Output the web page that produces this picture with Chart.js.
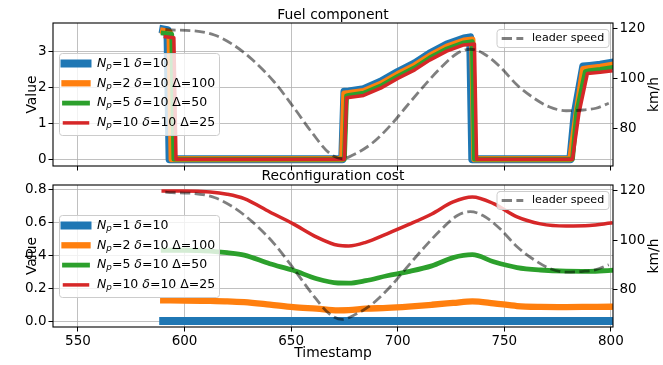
<!DOCTYPE html>
<html>
<head>
<meta charset="utf-8">
<script src="https://cdn.jsdelivr.net/npm/chart.js@4"></script>
<style>
  html, body { margin: 0; padding: 0; background: #fff; }
  #wrap { position: relative; width: 663px; height: 365px; overflow: hidden; }
  canvas { position: absolute; left: 0; }
  #fuel { top: 0; }
  #cost { top: 170px; }
</style>
</head>
<body>
<div id="wrap">
  <canvas id="fuel" width="663" height="180"></canvas>
  <canvas id="cost" width="663" height="195"></canvas>
</div>
<script>
// runs shown in the legend
const runNp = [1, 2, 5, 10];
const runDelta = [10, 10, 10, 10];
const runGap = [null, 100, 50, 25];

// axis ticks
const xTicks = [550, 600, 650, 700, 750, 800];
const fuelTicks = [0, 1, 2, 3];
const costTicks = [0, 0.2, 0.4, 0.6, 0.8];
const speedTicks = [80, 100, 120];

// fuel component, one timestamp list per run (steps happen at slightly different times)
const fuelTsNp1 = [590, 592, 593, 674, 675, 677, 684, 692, 700, 708, 715, 723, 731, 734, 735, 781, 783, 787, 790, 795, 800];
const fuelNp1 = [3.6, 3.58, 0, 0, 1.87, 1.88, 1.94, 2.15, 2.42, 2.66, 2.93, 3.18, 3.35, 3.38, 0, 0, 1.25, 2.57, 2.59, 2.62, 2.67];
const fuelTsNp2 = [590, 593, 594, 674, 675, 677, 684, 692, 700, 708, 715, 723, 731, 735, 736, 781, 784, 787, 790, 795, 800];
const fuelNp2 = [3.56, 3.53, 0, 0, 1.82, 1.83, 1.89, 2.09, 2.36, 2.6, 2.87, 3.12, 3.29, 3.32, 0, 0, 1.3, 2.5, 2.53, 2.56, 2.61];
const fuelTsNp5 = [590, 594, 595, 675, 676, 677, 684, 692, 700, 708, 715, 723, 731, 735, 736, 782, 784, 788, 790, 795, 800];
const fuelNp5 = [3.5, 3.47, 0, 0, 1.76, 1.77, 1.83, 2.03, 2.3, 2.54, 2.81, 3.06, 3.23, 3.26, 0, 0, 1.3, 2.43, 2.46, 2.49, 2.54];
const fuelTsNp10 = [591, 595, 596, 675, 676, 677, 684, 692, 700, 708, 715, 723, 731, 736, 737, 782, 785, 789, 795, 800];
const fuelNp10 = [3.4, 3.37, 0, 0, 1.7, 1.71, 1.77, 1.97, 2.24, 2.48, 2.75, 3.0, 3.17, 3.2, 0, 0, 1.27, 2.38, 2.41, 2.45];

// reconfiguration cost
const costTs = [590, 600, 612, 620, 628, 640, 651, 662, 672, 677, 685, 695, 705, 716, 726, 735, 745, 756, 767, 779, 790, 800];
const costNp1 = [0, 0, 0, 0, 0, 0, 0, 0, 0, 0, 0, 0, 0, 0, 0, 0, 0, 0, 0, 0, 0, 0];
const costNp2 = [0.126, 0.125, 0.122, 0.12, 0.115, 0.1, 0.085, 0.075, 0.065, 0.066, 0.075, 0.08, 0.088, 0.099, 0.11, 0.12, 0.108, 0.091, 0.086, 0.085, 0.086, 0.087];
const costNp5 = [0.43, 0.43, 0.425, 0.415, 0.4, 0.348, 0.308, 0.257, 0.231, 0.23, 0.245, 0.275, 0.3, 0.335, 0.385, 0.403, 0.36, 0.325, 0.31, 0.303, 0.302, 0.308];
const costNp10 = [0.79, 0.79, 0.784, 0.77, 0.743, 0.662, 0.59, 0.51, 0.46, 0.456, 0.478, 0.53, 0.585, 0.65, 0.723, 0.753, 0.713, 0.632, 0.59, 0.577, 0.58, 0.595];

// leader speed (km/h)
const speedTs = [591, 594, 604, 614, 623, 632, 642, 651, 660, 668, 674, 679, 688, 697, 704, 712, 720, 728, 734, 740, 748, 756, 764, 771, 779, 787, 793, 799];
const speedKmh = [119.5, 119.3, 119.0, 117.3, 113.3, 107.3, 98.6, 88.6, 78, 70, 67.8, 69.3, 74, 81.5, 88.6, 96.6, 104, 110, 111.6, 110, 104.6, 97.3, 92, 88.6, 87, 87.3, 88, 90];

const lineColors = ["#1f77b4", "#ff7f0e", "#2ca02c", "#d62728"];
const lineWidths = [8, 6.3, 4.8, 3.5];
const gridColor = "#b0b0b0";
const speedColor = "rgba(0,0,0,0.5)";
const speedDash = [10.3, 4.4];

Chart.defaults.font.family = "'DejaVu Sans', sans-serif";
Chart.defaults.color = "#000";

function pts(xs, ys) {
  return xs.map((x, i) => ({ x: x, y: ys[i] }));
}

function fixedTicks(values) {
  return function (scale) {
    scale.ticks = values.map(v => ({ value: v }));
  };
}

function drawMathLabel(ctx, parts, x, y, size) {
  parts.forEach(([t, s]) => {
    const fs = s === "s" ? size * 0.7 : size;
    ctx.font = (s === "n" ? "" : "italic ") + fs + "px 'DejaVu Sans'";
    ctx.fillText(t, x, y + (s === "s" ? size * 0.25 : 0));
    x += ctx.measureText(t).width;
  });
}

function runLabel(i) {
  const parts = [["N", "i"], ["p", "s"], ["=" + runNp[i] + " ", "n"], ["\u03b4", "i"], ["=" + runDelta[i], "n"]];
  if (runGap[i] !== null) parts.push([" \u0394=" + runGap[i], "n"]);
  return parts;
}

function legendBox(ctx, x, y, w, h) {
  ctx.beginPath();
  ctx.roundRect(x, y, w, h, 3);
  ctx.fillStyle = "rgba(255,255,255,0.8)";
  ctx.fill();
  ctx.strokeStyle = "#cccccc";
  ctx.lineWidth = 1;
  ctx.stroke();
}

function drawRunLegend(ctx, top) {
  legendBox(ctx, 59.5, top + 0.5, 160, 82);
  ctx.textAlign = "left";
  ctx.textBaseline = "middle";
  runNp.forEach((np, i) => {
    const y = top + 10.5 + i * 19.8;
    ctx.strokeStyle = lineColors[i];
    ctx.lineWidth = lineWidths[i];
    ctx.lineCap = "square";
    ctx.setLineDash([]);
    ctx.beginPath();
    ctx.moveTo(64.5, y);
    ctx.lineTo(87.5, y);
    ctx.stroke();
    ctx.fillStyle = "#000";
    drawMathLabel(ctx, runLabel(i), 97, y, 12.5);
  });
}

function drawSpeedLegend(ctx, top) {
  legendBox(ctx, 497, top + 0.5, 112, 18);
  const y = top + 9.5;
  ctx.strokeStyle = speedColor;
  ctx.lineWidth = 2.8;
  ctx.lineCap = "butt";
  ctx.setLineDash(speedDash);
  ctx.beginPath();
  ctx.moveTo(501.7, y);
  ctx.lineTo(523.3, y);
  ctx.stroke();
  ctx.setLineDash([]);
  ctx.fillStyle = "#000";
  ctx.font = "11.1px 'DejaVu Sans'";
  ctx.textAlign = "left";
  ctx.textBaseline = "middle";
  ctx.fillText("leader speed", 532, y);
}

function vText(ctx, text, x, y) {
  ctx.save();
  ctx.translate(x, y);
  ctx.rotate(-Math.PI / 2);
  ctx.textAlign = "center";
  ctx.textBaseline = "alphabetic";
  ctx.fillText(text, 0, 0);
  ctx.restore();
}

const decor = {
  id: "decor",
  afterDraw(chart, args, o) {
    const ctx = chart.ctx;
    const a = chart.chartArea;
    const cx = (a.left + a.right) / 2;
    const cy = (a.top + a.bottom) / 2;
    ctx.save();
    ctx.strokeStyle = "#000";
    ctx.lineWidth = 1.1;
    ctx.strokeRect(a.left, a.top, a.right - a.left, a.bottom - a.top);
    ctx.fillStyle = "#000";
    ctx.font = "13.9px 'DejaVu Sans'";
    ctx.textAlign = "center";
    ctx.textBaseline = "alphabetic";
    ctx.fillText(o.title, cx, o.titleY);
    if (o.xTitle) ctx.fillText(o.xTitle, cx, o.xTitleY);
    vText(ctx, "Value", 35.5, cy);
    vText(ctx, "km/h", 657.5, cy);
    drawRunLegend(ctx, o.legendTop);
    drawSpeedLegend(ctx, o.speedLegendTop);
    ctx.restore();
  }
};

function makeScales(o) {
  const tickGrid = { color: gridColor, lineWidth: 0.8, tickLength: 4.5, tickColor: "#000", tickWidth: 1 };
  return {
    x: {
      type: "linear", min: 538.3, max: 801,
      afterBuildTicks: fixedTicks(xTicks),
      afterFit: s => { s.height = o.xHeight; },
      grid: tickGrid,
      border: { display: false },
      ticks: { display: o.xLabels, font: { size: 13.5 }, padding: 2, maxRotation: 0, autoSkip: false }
    },
    y: {
      position: "left", min: o.yMin, max: o.yMax,
      afterBuildTicks: fixedTicks(o.yTicks),
      afterFit: s => { s.width = 53; },
      grid: tickGrid,
      border: { display: false },
      ticks: { font: { size: 13.5 }, padding: 2, callback: o.fmt }
    },
    y1: {
      position: "right", min: o.sMin, max: o.sMax,
      afterBuildTicks: fixedTicks(speedTicks),
      afterFit: s => { s.width = 50; },
      grid: { drawOnChartArea: false, tickLength: 4.5, tickColor: "#000", tickWidth: 1 },
      border: { display: false },
      ticks: { font: { size: 13.5 }, padding: 2 }
    }
  };
}

function runSet(i, data, smooth) {
  return {
    data: data,
    yAxisID: "y",
    borderColor: lineColors[i],
    borderWidth: lineWidths[i],
    borderJoinStyle: "round",
    borderCapStyle: "square",
    pointRadius: 0,
    cubicInterpolationMode: smooth ? "monotone" : "default",
    tension: 0,
    order: 4 - i
  };
}

function speedSet() {
  return {
    data: pts(speedTs, speedKmh),
    yAxisID: "y1",
    borderColor: speedColor,
    borderWidth: 2.8,
    borderDash: speedDash,
    pointRadius: 0,
    cubicInterpolationMode: "monotone",
    order: 0
  };
}

new Chart(document.getElementById("fuel"), {
  type: "line",
  data: {
    datasets: [
      runSet(0, pts(fuelTsNp1, fuelNp1), false),
      runSet(1, pts(fuelTsNp2, fuelNp2), false),
      runSet(2, pts(fuelTsNp5, fuelNp5), false),
      runSet(3, pts(fuelTsNp10, fuelNp10), false),
      speedSet()
    ]
  },
  options: {
    responsive: false,
    animation: false,
    events: [],
    layout: { padding: { top: 23 } },
    scales: makeScales({
      xHeight: 14, xLabels: false,
      yMin: -0.19, yMax: 3.78, yTicks: fuelTicks, fmt: v => String(v),
      sMin: 64.9, sMax: 122.1
    }),
    plugins: {
      legend: { display: false },
      tooltip: { enabled: false },
      decor: { title: "Fuel component", titleY: 18.5, legendTop: 53, speedLegendTop: 29 }
    }
  },
  plugins: [decor]
});

new Chart(document.getElementById("cost"), {
  type: "line",
  data: {
    datasets: [
      runSet(0, pts(costTs, costNp1), true),
      runSet(1, pts(costTs, costNp2), true),
      runSet(2, pts(costTs, costNp5), true),
      runSet(3, pts(costTs, costNp10), true),
      speedSet()
    ]
  },
  options: {
    responsive: false,
    animation: false,
    events: [],
    layout: { padding: { top: 15 } },
    scales: makeScales({
      xHeight: 38, xLabels: true,
      yMin: -0.036, yMax: 0.826, yTicks: costTicks, fmt: v => v.toFixed(1),
      sMin: 64.7, sMax: 122.4
    }),
    plugins: {
      legend: { display: false },
      tooltip: { enabled: false },
      decor: { title: "Reconfiguration cost", titleY: 10, xTitle: "Timestamp", xTitleY: 187, legendTop: 45, speedLegendTop: 21 }
    }
  },
  plugins: [decor]
});
</script>
</body>
</html>
